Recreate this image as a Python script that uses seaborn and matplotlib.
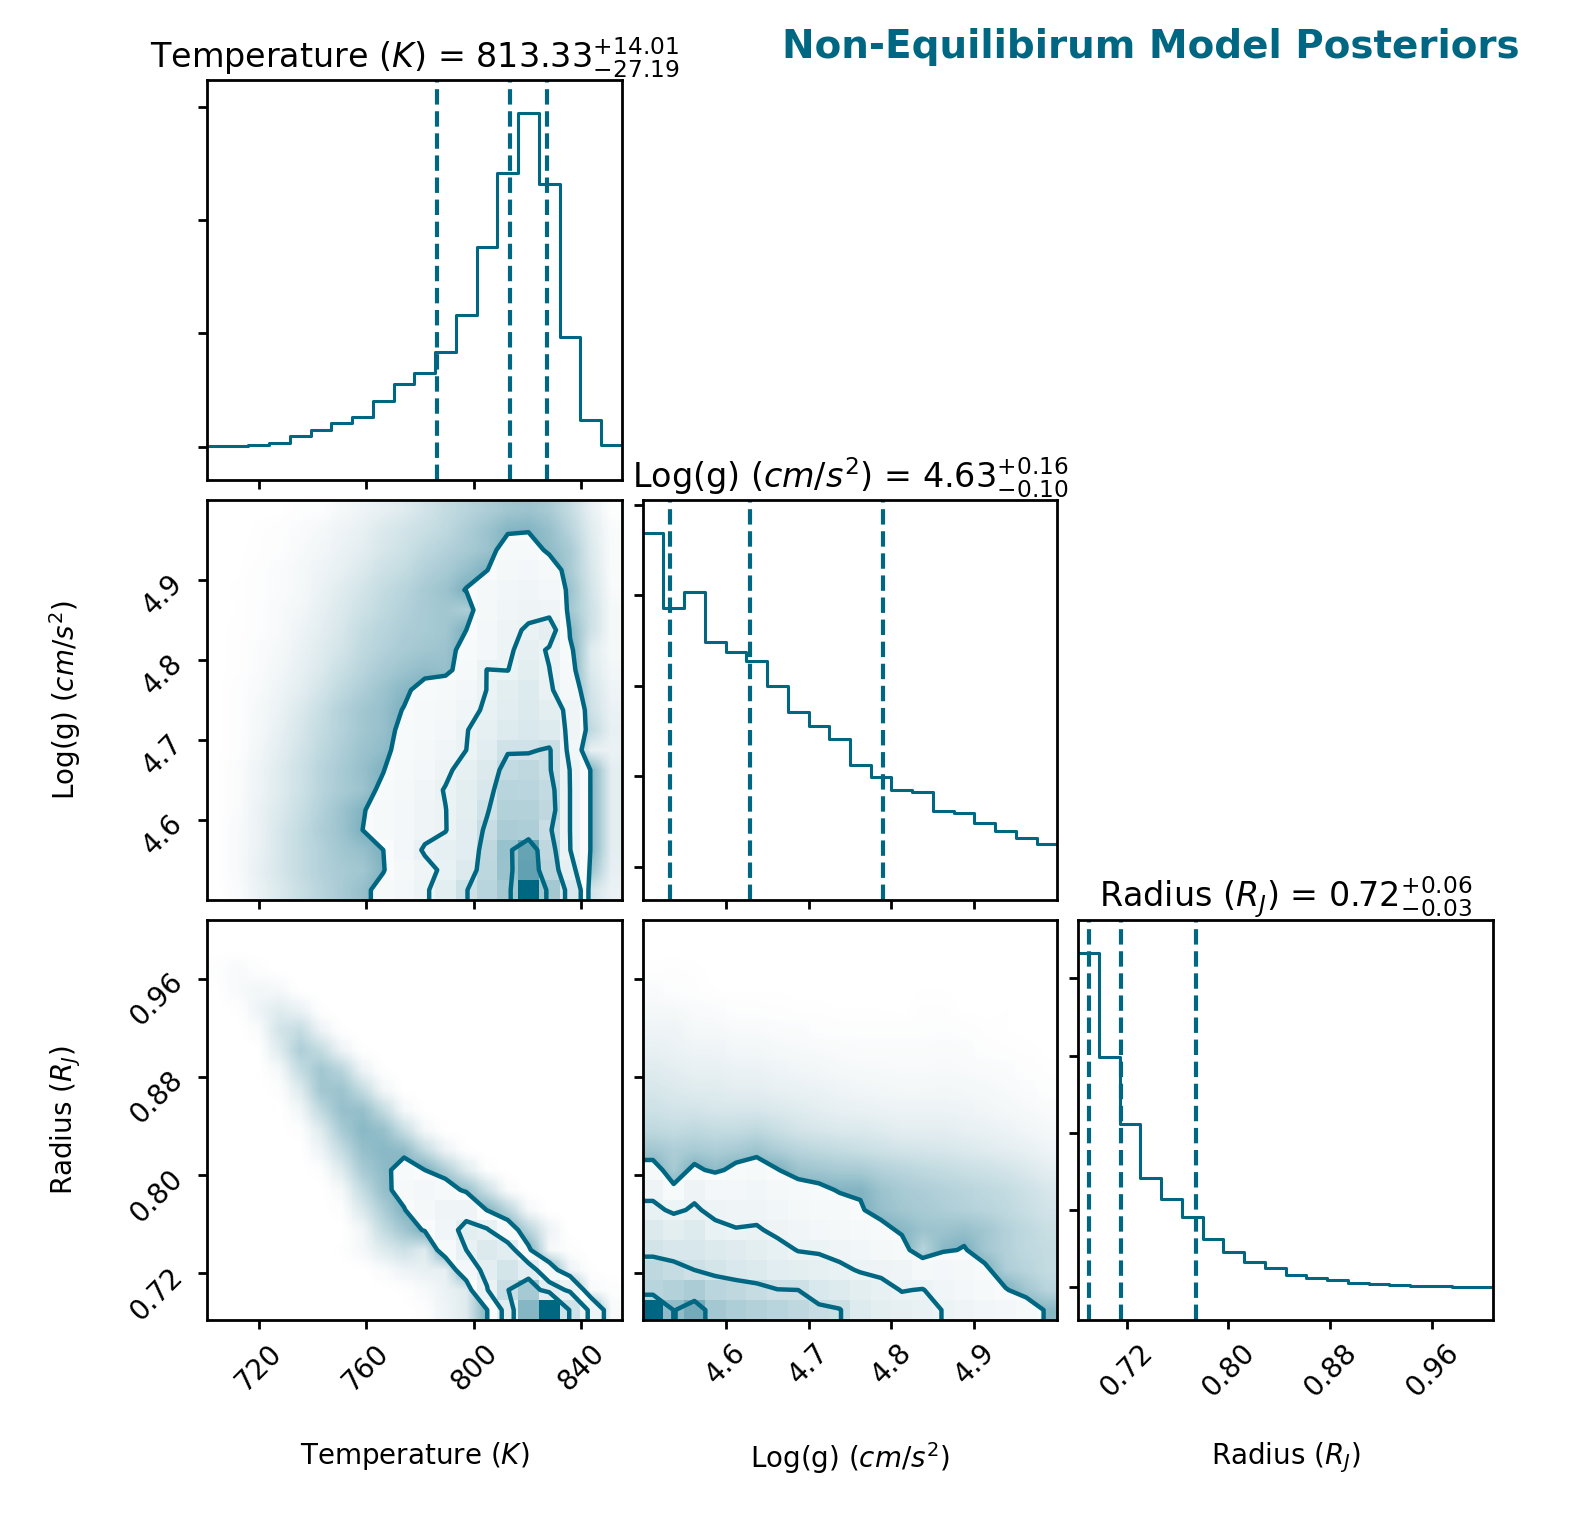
import numpy as np
import pandas as pd
import matplotlib
matplotlib.use("Agg")
import matplotlib.pyplot as plt
from matplotlib.colors import LinearSegmentedColormap, to_rgb
import seaborn as sns

COLOR = "#006782"

labels = ["Temperature ($K$)", "Log(g) ($cm/s^2$)", "Radius ($R_J$)"]
titles = [r"Temperature ($K$) = $813.33_{-27.19}^{+14.01}$",
          r"Log(g) ($cm/s^2$) = $4.63_{-0.10}^{+0.16}$",
          r"Radius ($R_J$) = $0.72_{-0.03}^{+0.06}$"]
ranges = [(700.8, 855.0), (4.50, 5.00), (0.682, 1.008)]
ticks = [[720, 760, 800, 840], [4.6, 4.7, 4.8, 4.9], [0.72, 0.80, 0.88, 0.96]]
tick_fmt = ["{:.0f}", "{:.1f}", "{:.2f}"]
quantiles = [[786.14, 813.33, 827.34], [4.533, 4.630, 4.790], [0.6906, 0.7155, 0.7745]]

# 1D marginal histograms (20 bins, relative counts)
hist_temp = [1, 2, 5, 10, 32, 50, 72, 89, 137, 188, 221, 285, 394, 598, 822, 1000, 789, 329, 80, 5]
hist_logg = [998, 773, 821, 674, 644, 617, 542, 462, 422, 381, 304, 268, 230, 224, 167, 161, 131, 108, 86, 68]
hist_radius = [1000, 688, 488, 325, 262, 208, 143, 103, 73, 55, 35, 25, 19, 10, 7, 4, 2, 1, 0.5, 0.3]
hist_yticks = [[0, 340, 680, 1020], [0, 271, 541, 812, 1083], [0, 231, 462, 693, 925]]

# 2D histograms, rows listed from top (high y) to bottom (low y)
grid_temp_logg = [
    [0, 0, 0.05, 0.1, 0.3, 0.3, 0.6, 0.8, 1.0, 1.2, 1.5, 1.8, 2.0, 2.2, 2.4, 2.5, 2.3, 1.8, 1.0, 0.3],
    [0, 0.05, 0.2, 0.3, 0.4, 0.6, 0.8, 1.0, 1.3, 1.5, 1.7, 1.9, 2.2, 2.5, 2.85, 2.9, 2.6, 2.0, 1.2, 0.4],
    [0, 0.1, 0.2, 0.3, 0.5, 0.7, 0.9, 1.1, 1.4, 1.6, 1.9, 2.1, 2.3, 2.5, 3.6, 3.8, 2.7, 2.3, 1.3, 0.4],
    [0.05, 0.1, 0.3, 0.4, 0.6, 0.8, 1.0, 1.3, 1.6, 1.8, 2.1, 2.3, 2.6, 2.95, 4.5, 5.0, 4.0, 2.3, 1.4, 0.4],
    [0.05, 0.2, 0.3, 0.4, 0.6, 0.9, 1.2, 1.5, 1.8, 2.0, 2.3, 2.5, 3.05, 4.5, 5.5, 6.0, 5.0, 2.5, 1.5, 0.5],
    [0.05, 0.15, 0.3, 0.5, 0.7, 1.0, 1.3, 1.6, 1.9, 2.1, 2.3, 2.4, 2.2, 4.5, 6.0, 7.0, 6.5, 2.4, 1.6, 0.6],
    [0.1, 0.2, 0.3, 0.5, 0.8, 1.1, 1.4, 1.8, 2.0, 2.2, 2.3, 2.4, 3.0, 5.0, 7.0, 8.5, 10.5, 2.8, 1.6, 0.6],
    [0.1, 0.2, 0.4, 0.6, 0.9, 1.2, 1.5, 1.9, 2.1, 2.3, 2.4, 2.5, 3.5, 5.0, 7.2, 10.0, 7.5, 3.3, 1.2, 0.6],
    [0.1, 0.2, 0.4, 0.7, 1.0, 1.3, 1.7, 2.0, 2.3, 2.5, 2.7, 2.6, 3.8, 8.1, 7.9, 11.0, 8.1, 3.6, 1.3, 0.7],
    [0.1, 0.3, 0.5, 0.8, 1.1, 1.5, 1.9, 2.2, 2.5, 2.8, 3.4, 4.0, 5.0, 8.1, 11.0, 13.0, 8.8, 4.5, 1.5, 0.8],
    [0.1, 0.3, 0.6, 0.9, 1.3, 1.7, 2.1, 2.4, 2.6, 3.05, 3.8, 4.5, 6.0, 9.0, 12.0, 14.0, 11.0, 6.5, 1.6, 0.9],
    [0.1, 0.3, 0.6, 1.0, 1.4, 1.8, 2.1, 2.4, 2.6, 3.3, 4.0, 5.0, 7.8, 10.0, 13.0, 15.0, 13.0, 6.5, 1.9, 1.0],
    [0.1, 0.3, 0.7, 1.1, 1.5, 1.9, 2.2, 2.5, 2.7, 3.5, 4.5, 6.0, 8.0, 12.0, 19.0, 19.0, 21.0, 5.5, 1.0, 0.9],
    [0.1, 0.4, 0.8, 1.2, 1.6, 2.0, 2.3, 2.6, 2.95, 4.0, 5.0, 7.0, 10.0, 14.0, 24.0, 25.0, 21.0, 7.8, 2.9, 1.1],
    [0.1, 0.4, 0.8, 1.2, 1.6, 2.0, 2.3, 2.5, 3.3, 4.5, 6.0, 8.3, 11.0, 16.0, 28.0, 27.0, 24.0, 8.0, 2.9, 1.1],
    [0.1, 0.4, 0.9, 1.3, 1.7, 2.1, 2.5, 2.9, 3.6, 5.0, 6.5, 7.9, 11.0, 19.0, 30.0, 30.0, 25.0, 8.0, 2.9, 1.1],
    [0.1, 0.5, 0.9, 1.4, 1.8, 2.2, 2.5, 3.0, 3.8, 5.0, 6.5, 7.8, 12.0, 22.0, 33.0, 32.0, 21.5, 8.0, 2.9, 1.1],
    [0.1, 0.5, 0.9, 1.4, 1.8, 2.1, 2.4, 2.6, 3.0, 5.0, 8.6, 10.0, 12.0, 25.0, 41.0, 60.0, 25.0, 8.1, 2.9, 1.1],
    [0.1, 0.5, 1.0, 1.4, 1.8, 2.1, 2.3, 2.4, 2.9, 4.5, 6.5, 9.0, 14.0, 26.0, 40.0, 62.0, 28.0, 10.0, 2.5, 1.0],
    [0.05, 0.4, 0.9, 1.3, 1.7, 2.0, 2.3, 2.6, 3.6, 5.0, 7.2, 11.0, 19.5, 28.0, 36.0, 100.0, 36.0, 15.0, 1.5, 0.9],
]

grid_temp_radius = [
    [0, 0, 0, 0, 0, 0, 0, 0, 0, 0, 0, 0, 0, 0, 0, 0, 0, 0, 0, 0],
    [0.05, 0.05, 0, 0, 0, 0, 0, 0, 0, 0, 0, 0, 0, 0, 0, 0, 0, 0, 0, 0],
    [0.3, 0.5, 0.3, 0, 0, 0, 0, 0, 0, 0, 0, 0, 0, 0, 0, 0, 0, 0, 0, 0],
    [0.1, 0.5, 0.7, 0.6, 0.1, 0, 0, 0, 0, 0, 0, 0, 0, 0, 0, 0, 0, 0, 0, 0],
    [0, 0.2, 0.8, 1.2, 0.9, 0.2, 0, 0, 0, 0, 0, 0, 0, 0, 0, 0, 0, 0, 0, 0],
    [0, 0, 0.4, 1.5, 1.8, 0.8, 0.2, 0, 0, 0, 0, 0, 0, 0, 0, 0, 0, 0, 0, 0],
    [0, 0, 0.1, 1.2, 2.2, 1.8, 0.8, 0.2, 0, 0, 0, 0, 0, 0, 0, 0, 0, 0, 0, 0],
    [0, 0, 0, 0.6, 1.8, 2.4, 2.0, 0.8, 0.2, 0, 0, 0, 0, 0, 0, 0, 0, 0, 0, 0],
    [0, 0, 0, 0.3, 1.2, 2.4, 2.5, 1.8, 0.7, 0.1, 0, 0, 0, 0, 0, 0, 0, 0, 0, 0],
    [0, 0, 0, 0, 0.7, 1.9, 2.6, 2.6, 1.8, 0.6, 0.1, 0, 0, 0, 0, 0, 0, 0, 0, 0],
    [0, 0, 0, 0, 0.3, 1.2, 2.3, 2.8, 2.6, 1.7, 0.6, 0.1, 0, 0, 0, 0, 0, 0, 0, 0],
    [0, 0, 0, 0, 0, 0.8, 1.8, 2.6, 2.8, 2.7, 1.8, 0.8, 0.2, 0, 0, 0, 0, 0, 0, 0],
    [0, 0, 0, 0, 0, 0.3, 1.2, 2.3, 2.7, 3.5, 3.0, 2.2, 1.2, 0.3, 0, 0, 0, 0, 0, 0],
    [0, 0, 0, 0, 0, 0, 0.6, 1.8, 2.6, 3.6, 5.0, 4.0, 2.6, 1.6, 0.4, 0, 0, 0, 0, 0],
    [0, 0, 0, 0, 0, 0, 0.3, 1.3, 2.2, 2.9, 4.5, 6.5, 6.5, 2.9, 2.0, 0.6, 0, 0, 0, 0],
    [0, 0, 0, 0, 0, 0, 0, 0.7, 1.8, 2.4, 3.1, 6.0, 11.0, 9.5, 4.0, 2.0, 0.8, 0, 0, 0],
    [0, 0, 0, 0, 0, 0, 0.2, 0.6, 1.2, 1.6, 1.2, 4.2, 9.0, 14.0, 12.0, 3.3, 0.6, 0.3, 0, 0],
    [0, 0, 0, 0, 0, 0, 0, 0, 0.4, 0.8, 1.0, 1.0, 5.0, 11.0, 17.0, 12.0, 4.5, 0.8, 0.2, 0],
    [0, 0, 0, 0, 0, 0, 0, 0, 0, 0.2, 0.5, 0.9, 1.2, 8.5, 21.5, 35.0, 12.0, 8.0, 0.5, 0.3],
    [0, 0, 0, 0, 0, 0, 0, 0, 0, 0, 0.3, 0.8, 1.2, 2.9, 11.5, 48.0, 100.0, 19.0, 7.3, 0.5],
]

grid_logg_radius = [
    [0, 0, 0, 0, 0, 0, 0, 0, 0, 0, 0, 0, 0, 0, 0, 0, 0, 0, 0, 0],
    [0.05, 0.05, 0.05, 0, 0, 0, 0, 0, 0, 0, 0, 0, 0, 0, 0, 0, 0, 0, 0, 0],
    [0.2, 0.25, 0.2, 0.05, 0.05, 0.05, 0, 0, 0, 0, 0.1, 0, 0, 0, 0, 0, 0, 0, 0, 0],
    [0.4, 0.3, 0.25, 0.15, 0.1, 0.1, 0.15, 0.05, 0.05, 0.05, 0.05, 0.05, 0.05, 0.15, 0.15, 0.05, 0, 0, 0, 0],
    [0.6, 0.6, 0.45, 0.4, 0.3, 0.3, 0.25, 0.2, 0.2, 0.15, 0.15, 0.15, 0.1, 0.25, 0.25, 0.1, 0.1, 0.15, 0.05, 0],
    [0.8, 0.8, 0.6, 0.6, 0.5, 0.5, 0.4, 0.4, 0.3, 0.3, 0.3, 0.3, 0.3, 0.3, 0.35, 0.3, 0.2, 0.15, 0.1, 0.05],
    [1.0, 0.9, 0.8, 0.8, 0.7, 0.7, 0.6, 0.55, 0.5, 0.45, 0.4, 0.4, 0.4, 0.4, 0.45, 0.4, 0.3, 0.25, 0.2, 0.1],
    [1.2, 1.1, 1.0, 1.0, 0.9, 0.9, 0.8, 0.75, 0.7, 0.6, 0.55, 0.55, 0.5, 0.5, 0.55, 0.5, 0.45, 0.4, 0.3, 0.2],
    [1.4, 1.3, 1.2, 1.2, 1.1, 1.1, 1.0, 0.95, 0.9, 0.8, 0.75, 0.7, 0.65, 0.65, 0.7, 0.65, 0.6, 0.5, 0.4, 0.3],
    [1.6, 1.5, 1.5, 1.4, 1.4, 1.4, 1.3, 1.2, 1.1, 1.0, 0.95, 0.9, 0.85, 0.85, 0.85, 0.8, 0.75, 0.65, 0.55, 0.45],
    [1.9, 1.8, 1.9, 1.8, 1.8, 1.9, 1.7, 1.5, 1.4, 1.3, 1.3, 1.2, 1.1, 1.1, 1.1, 1.0, 0.95, 0.85, 0.75, 0.6],
    [2.4, 2.2, 2.3, 2.2, 2.3, 2.45, 2.2, 2.0, 1.9, 1.8, 1.7, 1.6, 1.5, 1.45, 1.4, 1.3, 1.2, 1.1, 1.0, 0.8],
    [3.6, 2.3, 3.3, 2.7, 3.4, 4.0, 3.05, 2.5, 2.4, 2.3, 2.3, 2.1, 2.0, 1.9, 1.8, 1.7, 1.6, 1.5, 1.3, 1.1],
    [6.8, 3.3, 7.0, 5.0, 5.0, 5.5, 4.5, 3.6, 3.3, 2.9, 2.9, 2.5, 2.3, 2.2, 2.1, 2.0, 1.9, 1.8, 1.6, 1.4],
    [9.0, 7.3, 8.5, 7.0, 6.5, 6.5, 5.5, 4.5, 4.0, 3.6, 3.1, 2.6, 2.4, 2.3, 2.2, 2.1, 2.0, 1.9, 1.7, 1.5],
    [14.0, 11.0, 13.0, 9.0, 8.2, 8.5, 7.0, 6.0, 5.0, 4.5, 4.0, 3.4, 2.8, 2.5, 2.5, 2.6, 2.4, 2.1, 1.9, 1.7],
    [17.5, 16.0, 16.0, 14.0, 12.5, 11.0, 9.5, 7.8, 7.5, 6.5, 5.5, 4.5, 3.6, 2.0, 2.8, 3.1, 2.4, 2.1, 1.9, 1.8],
    [25.0, 23.0, 20.0, 17.0, 15.0, 14.0, 12.0, 11.0, 10.0, 9.0, 7.6, 7.0, 6.5, 4.5, 5.0, 4.4, 3.3, 2.2, 2.0, 1.8],
    [28.0, 30.0, 33.0, 27.0, 25.0, 23.0, 20.3, 20.0, 15.0, 13.0, 11.0, 9.5, 7.8, 8.2, 6.0, 5.0, 4.2, 3.1, 2.4, 2.0],
    [100.0, 44.0, 55.0, 36.0, 32.0, 30.0, 28.0, 25.0, 22.0, 20.5, 13.0, 11.0, 10.0, 9.0, 7.9, 6.5, 5.5, 5.0, 4.0, 2.8],
]

levels_temp_logg = [45, 20, 8, 3]
levels_temp_radius = [22, 9, 3]
levels_logg_radius = [45, 20, 8, 3]

sns.set_style("ticks", rc={"axes.edgecolor": "black", "xtick.color": "black",
                           "ytick.color": "black", "text.color": "black",
                           "axes.labelcolor": "black"})
plt.rcParams["font.family"] = ["DejaVu Sans"]
plt.rcParams["mathtext.fontset"] = "dejavusans"

rgb = to_rgb(COLOR)
density_cmap = LinearSegmentedColormap.from_list("density", [rgb + (0,), rgb + (1,)])
haze_cmap = LinearSegmentedColormap.from_list("haze", [rgb + (0,), rgb + (0.5,)])


def draw_2d(ax, xr, yr, rows, levels):
    H = np.array(rows[::-1], dtype=float)
    ny, nx = H.shape
    xe = np.linspace(xr[0], xr[1], nx + 1)
    ye = np.linspace(yr[0], yr[1], ny + 1)
    xc = 0.5 * (xe[1:] + xe[:-1])
    yc = 0.5 * (ye[1:] + ye[:-1])
    dx, dy = xe[1] - xe[0], ye[1] - ye[0]
    xc2 = np.concatenate([[xc[0] - dx], xc, [xc[-1] + dx]])
    yc2 = np.concatenate([[yc[0] - dy], yc, [yc[-1] + dy]])
    H2 = np.pad(H, 1, mode="edge")
    outer = min(levels)
    # soft cloud standing in for the sample points outside the contours
    haze = np.clip(H / outer, 0, 1) ** 1.6
    ax.imshow(haze, extent=(xr[0], xr[1], yr[0], yr[1]),
              origin="lower", cmap=haze_cmap, vmin=0, vmax=1,
              interpolation="bilinear", aspect="auto")
    ax.contourf(xc2, yc2, H2, [outer, H.max() + 1], colors="white", antialiased=False)
    ax.pcolormesh(xe, ye, H, cmap=density_cmap, vmin=0, vmax=H.max())
    ax.contour(xc2, yc2, H2, sorted(levels), colors=COLOR, linewidths=1.6)
    ax.set_xlim(xr)
    ax.set_ylim(yr)


fig, axes = plt.subplots(3, 3, figsize=(7.88, 7.6), dpi=200)
fig.subplots_adjust(left=207 / 1576, right=1493 / 1576, bottom=1 - 1320 / 1520,
                    top=1 - 80 / 1520, wspace=0.05, hspace=0.05)

hists = [hist_temp, hist_logg, hist_radius]
pairs = {(1, 0): (grid_temp_logg, levels_temp_logg),
         (2, 0): (grid_temp_radius, levels_temp_radius),
         (2, 1): (grid_logg_radius, levels_logg_radius)}

for i in range(3):
    for j in range(3):
        ax = axes[i, j]
        if j > i:
            ax.set_frame_on(False)
            ax.set_xticks([])
            ax.set_yticks([])
            continue
        if i == j:
            edges = np.linspace(ranges[i][0], ranges[i][1], len(hists[i]) + 1)
            df = pd.DataFrame({"value": 0.5 * (edges[1:] + edges[:-1]),
                               "count": np.asarray(hists[i], dtype=float)})
            sns.histplot(data=df, x="value", weights="count", bins=list(edges),
                         element="step", fill=False, color=COLOR, linewidth=1.1, ax=ax)
            for q in quantiles[i]:
                ax.axvline(q, ls="--", color=COLOR, lw=1.5)
            hmax = max(hists[i])
            ax.set_ylim(-0.1 * hmax, 1.1 * hmax)
            ax.set_yticks(hist_yticks[i])
            ax.set_yticklabels([])
            ax.set_ylabel("")
            ax.set_title(titles[i], fontsize=12, pad=3)
        else:
            rows, lev = pairs[(i, j)]
            draw_2d(ax, ranges[j], ranges[i], rows, lev)
            ax.set_yticks(ticks[i])
            if j == 0:
                ax.set_yticklabels([tick_fmt[i].format(t) for t in ticks[i]], rotation=45)
                ax.set_ylabel(labels[i], fontsize=10)
                ax.yaxis.set_label_coords(-0.3, 0.5)
            else:
                ax.set_yticklabels([])
                ax.set_ylabel("")
        ax.set_xlim(ranges[j])
        ax.set_xticks(ticks[j])
        if i == 2:
            ax.set_xticklabels([tick_fmt[j].format(t) for t in ticks[j]], rotation=45)
            ax.set_xlabel(labels[j], fontsize=10)
            ax.xaxis.set_label_coords(0.5, -0.3)
        else:
            ax.set_xticklabels([])
            ax.set_xlabel("")
        ax.tick_params(labelsize=10, length=3.2, width=1.0, direction="out")
        for s in ax.spines.values():
            s.set_linewidth(1.0)
            s.set_visible(True)

fig.text(1520 / 1576, 1 - 58 / 1520, "Non-Equilibirum Model Posteriors", ha="right",
         va="baseline", fontsize=14, fontweight="bold", color=COLOR)

fig.savefig("out.png", dpi=200)
